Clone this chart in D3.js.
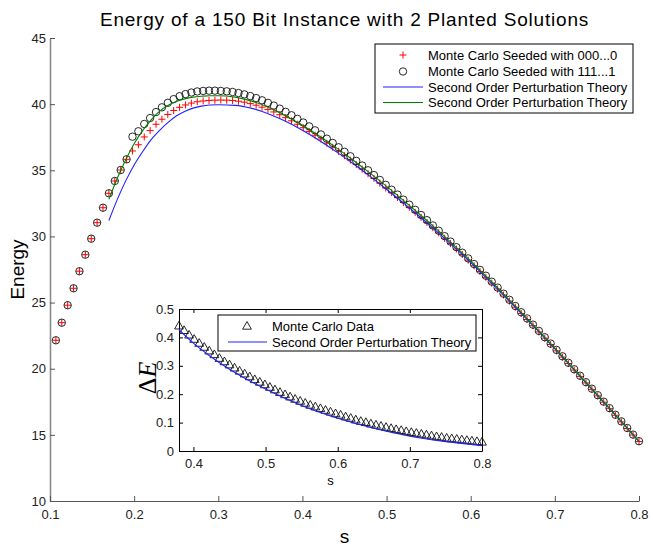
<!DOCTYPE html>
<html>
<head>
<meta charset="utf-8">
<script src="https://cdn.jsdelivr.net/npm/d3@7"></script>
<style>
  body { margin: 0; background: #fff; }
  text { font-family: Arial, "Liberation Sans", sans-serif; }
</style>
</head>
<body>
<div id="chart-area"></div>
<script>
// Monte Carlo sample points (s)
const sValues = [
  0.107, 0.114, 0.121, 0.128, 0.135, 0.142, 0.149, 0.156, 0.163, 0.170,
  0.177, 0.184, 0.191, 0.198, 0.205, 0.212, 0.219, 0.226, 0.233, 0.240,
  0.247, 0.254, 0.261, 0.268, 0.275, 0.282, 0.289, 0.296, 0.303, 0.310,
  0.317, 0.324, 0.331, 0.338, 0.345, 0.352, 0.359, 0.366, 0.373, 0.380,
  0.387, 0.394, 0.401, 0.408, 0.415, 0.422, 0.429, 0.436, 0.443, 0.450,
  0.457, 0.464, 0.471, 0.478, 0.485, 0.492, 0.499, 0.506, 0.513, 0.520,
  0.527, 0.534, 0.541, 0.548, 0.555, 0.562, 0.569, 0.576, 0.583, 0.590,
  0.597, 0.604, 0.611, 0.618, 0.625, 0.632, 0.639, 0.646, 0.653, 0.660,
  0.667, 0.674, 0.681, 0.688, 0.695, 0.702, 0.709, 0.716, 0.723, 0.730,
  0.737, 0.744, 0.751, 0.758, 0.765, 0.772, 0.779, 0.786, 0.793, 0.800
];

// Monte Carlo seeded with 000...0 (red +)
const energySeed0 = [
  22.15, 23.48, 24.80, 26.08, 27.37, 28.62, 29.83, 31.04, 32.17, 33.26,
  34.19, 35.02, 35.83, 36.46, 36.93, 37.52, 38.00, 38.48, 38.86, 39.22,
  39.52, 39.76, 39.94, 40.08, 40.18, 40.24, 40.28, 40.30, 40.31, 40.30,
  40.28, 40.22, 40.15, 40.04, 39.92, 39.77, 39.60, 39.41, 39.20, 38.98,
  38.74, 38.48, 38.22, 37.94, 37.65, 37.36, 37.05, 36.74, 36.43, 36.10,
  35.77, 35.43, 35.09, 34.74, 34.39, 34.03, 33.67, 33.31, 32.94, 32.57,
  32.20, 31.82, 31.44, 31.05, 30.66, 30.27, 29.86, 29.46, 29.05, 28.63,
  28.21, 27.78, 27.35, 26.91, 26.47, 26.03, 25.57, 25.11, 24.65, 24.18,
  23.72, 23.25, 22.78, 22.31, 21.83, 21.35, 20.88, 20.39, 19.90, 19.42,
  18.93, 18.44, 17.95, 17.47, 16.98, 16.48, 15.98, 15.48, 14.99, 14.49
];

// Monte Carlo seeded with 111...1 (black o)
const energySeed1 = [
  22.15, 23.48, 24.80, 26.08, 27.37, 28.62, 29.83, 31.04, 32.17, 33.26,
  34.19, 35.02, 35.83, 37.54, 37.95, 38.50, 38.95, 39.40, 39.76, 40.10,
  40.38, 40.60, 40.76, 40.88, 40.96, 41.00, 41.02, 41.02, 41.00, 40.97,
  40.92, 40.84, 40.74, 40.61, 40.46, 40.29, 40.10, 39.89, 39.66, 39.42,
  39.16, 38.89, 38.61, 38.32, 38.02, 37.71, 37.39, 37.07, 36.74, 36.40,
  36.06, 35.71, 35.36, 35.00, 34.64, 34.27, 33.90, 33.53, 33.16, 32.78,
  32.40, 32.01, 31.62, 31.23, 30.83, 30.43, 30.02, 29.61, 29.19, 28.77,
  28.34, 27.91, 27.47, 27.03, 26.58, 26.13, 25.67, 25.21, 24.74, 24.27,
  23.80, 23.33, 22.86, 22.38, 21.90, 21.42, 20.94, 20.45, 19.96, 19.47,
  18.98, 18.49, 18.00, 17.51, 17.02, 16.52, 16.02, 15.52, 15.02, 14.52
];

// Second order perturbation theory curves
const ptS = [
  0.17, 0.18, 0.19, 0.20, 0.21, 0.22, 0.23, 0.24, 0.25, 0.26, 0.27, 0.28, 0.29,
  0.30, 0.32, 0.34, 0.36, 0.38, 0.40, 0.42, 0.44, 0.46, 0.48, 0.50, 0.52, 0.54,
  0.56, 0.58, 0.60, 0.62, 0.64, 0.66, 0.68, 0.70, 0.72, 0.74, 0.76, 0.78, 0.80
];
const ptSeed0 = [
  31.2, 32.8, 34.2, 35.4, 36.4, 37.3, 38.0, 38.6, 39.1, 39.45, 39.7, 39.85, 39.93,
  39.95, 39.91, 39.68, 39.26, 38.70, 38.02, 37.25, 36.41, 35.51, 34.56, 33.56, 32.54, 31.47,
  30.36, 29.21, 28.03, 26.78, 25.50, 24.19, 22.86, 21.50, 20.12, 18.72, 17.33, 15.92, 14.49
];
const ptSeed1 = [
  32.8, 34.4, 35.8, 37.0, 38.0, 38.8, 39.45, 39.9, 40.2, 40.4, 40.53, 40.6, 40.64,
  40.64, 40.53, 40.23, 39.75, 39.13, 38.40, 37.59, 36.71, 35.78, 34.80, 33.78, 32.73, 31.64,
  30.51, 29.34, 28.14, 26.88, 25.59, 24.26, 22.92, 21.55, 20.16, 18.76, 17.36, 15.94, 14.51
];

// Inset: energy gap, Monte Carlo (s from 0.380 to 0.800, same grid as sValues)
const deltaS = sValues.slice(39);
const deltaMC = [
  0.441, 0.425, 0.409, 0.394, 0.380, 0.366, 0.353, 0.340, 0.327, 0.315,
  0.304, 0.293, 0.282, 0.272, 0.262, 0.252, 0.243, 0.234, 0.225, 0.216,
  0.207, 0.199, 0.191, 0.183, 0.176, 0.169, 0.162, 0.156, 0.150, 0.144,
  0.138, 0.132, 0.127, 0.121, 0.116, 0.110, 0.105, 0.101, 0.096, 0.092,
  0.088, 0.084, 0.080, 0.076, 0.073, 0.069, 0.066, 0.063, 0.060, 0.057,
  0.054, 0.051, 0.049, 0.046, 0.044, 0.042, 0.040, 0.038, 0.036, 0.034,
  0.032
];
const deltaPtS = [0.38, 0.40, 0.42, 0.45, 0.50, 0.55, 0.60, 0.65, 0.70, 0.75, 0.80];
const deltaPt = [0.427, 0.380, 0.340, 0.288, 0.218, 0.160, 0.115, 0.080, 0.052, 0.033, 0.019];

const xTicks = [0.1, 0.2, 0.3, 0.4, 0.5, 0.6, 0.7, 0.8];
const yTicks = [10, 15, 20, 25, 30, 35, 40, 45];
const insetXTicks = [0.4, 0.5, 0.6, 0.7, 0.8];
const insetYTicks = [0, 0.1, 0.2, 0.3, 0.4, 0.5];

const legendLabels = [
  "Monte Carlo Seeded with 000...0",
  "Monte Carlo Seeded with 111...1",
  "Second Order Perturbation Theory",
  "Second Order Perturbation Theory"
];
const insetLegendLabels = ["Monte Carlo Data", "Second Order Perturbation Theory"];

// ---- layout ----
const W = 653, H = 547;
const margin = { left: 50, right: 14, top: 38, bottom: 46 };
const width = W - margin.left - margin.right,
      height = H - margin.top - margin.bottom;

const svg = d3.select("#chart-area")
  .append("svg")
    .attr("width", W)
    .attr("height", H);

const g = svg.append("g")
    .attr("transform", "translate(" + margin.left + ", " + margin.top + ")");

const xScale = d3.scaleLinear().domain([0.1, 0.8]).range([0, width]);
const yScale = d3.scaleLinear().domain([10, 45]).range([height, 0]);
const fmt1 = d3.format(".1f");

// axes (ticks point inward, no box)
const yAxis = g.append("g")
  .call(d3.axisLeft(yScale).tickValues(yTicks).tickSizeInner(-5).tickSizeOuter(0).tickPadding(4));
yAxis.select(".domain").attr("stroke", "#8a8a8a").attr("stroke-width", 1.6);
yAxis.selectAll(".tick line").attr("stroke", "#555");

const xAxis = g.append("g")
    .attr("transform", "translate(0, " + height + ")")
  .call(d3.axisBottom(xScale).tickValues(xTicks).tickFormat(fmt1).tickSizeInner(-5).tickSizeOuter(0).tickPadding(9));
xAxis.select(".domain").attr("stroke", "#555").attr("stroke-width", 1.2);
xAxis.selectAll(".tick line").attr("stroke", "#555");

g.selectAll(".tick text").attr("font-size", 13).attr("fill", "#222")
  .style("font-family", "Arial, 'Liberation Sans', sans-serif");

// title and axis labels
svg.append("text")
    .attr("x", margin.left + width / 2).attr("y", 26)
    .attr("text-anchor", "middle").attr("font-size", 19)
    .attr("letter-spacing", 0.8)
    .text("Energy of a 150 Bit Instance with 2 Planted Solutions");
svg.append("text")
    .attr("transform", "translate(24, " + (margin.top + height / 2) + ") rotate(-90)")
    .attr("text-anchor", "middle").attr("font-size", 19)
    .text("Energy");
svg.append("text")
    .attr("x", margin.left + width / 2).attr("y", 543)
    .attr("text-anchor", "middle").attr("font-size", 19)
    .text("s");

// markers
const plusPath = "M-3.5,0H3.5M0,-3.5V3.5";
const seed0 = sValues.map((s, i) => ({ s: s, e: energySeed0[i] }));
const seed1 = sValues.map((s, i) => ({ s: s, e: energySeed1[i] }));

g.selectAll(".plus")
  .data(seed0)
  .enter().append("path")
    .attr("class", "plus")
    .attr("d", plusPath)
    .attr("transform", (d) => "translate(" + xScale(d.s) + "," + yScale(d.e) + ")")
    .attr("stroke", "#ff0000").attr("stroke-width", 1).attr("fill", "none");

g.selectAll(".circ")
  .data(seed1)
  .enter().append("circle")
    .attr("class", "circ")
    .attr("cx", (d) => xScale(d.s))
    .attr("cy", (d) => yScale(d.e))
    .attr("r", 3.7)
    .attr("stroke", "#111").attr("stroke-width", 0.9).attr("fill", "none");

const line = d3.line()
  .x((d) => xScale(d.s))
  .y((d) => yScale(d.e))
  .curve(d3.curveMonotoneX);

g.append("path")
  .datum(ptS.map((s, i) => ({ s: s, e: ptSeed0[i] })))
    .attr("d", line)
    .attr("fill", "none").attr("stroke", "#2020ff").attr("stroke-width", 1.1);
g.append("path")
  .datum(ptS.map((s, i) => ({ s: s, e: ptSeed1[i] })))
    .attr("d", line)
    .attr("fill", "none").attr("stroke", "#008000").attr("stroke-width", 1.1);

// main legend
const leg = svg.append("g").attr("transform", "translate(375, 44)");
leg.append("rect").attr("width", 258).attr("height", 69)
  .attr("fill", "#fff").attr("stroke", "#000").attr("stroke-width", 1);
const legRows = [11, 27.5, 43, 58.5];
leg.selectAll(".lt")
  .data(legendLabels)
  .enter().append("text")
    .attr("x", 53).attr("y", (d, i) => legRows[i])
    .attr("dy", "0.35em").attr("font-size", 13)
    .text((d) => d);
leg.append("path").attr("d", plusPath).attr("transform", "translate(28," + legRows[0] + ")")
  .attr("stroke", "#ff0000").attr("fill", "none");
leg.append("circle").attr("cx", 28).attr("cy", legRows[1]).attr("r", 3.7)
  .attr("stroke", "#111").attr("stroke-width", 0.9).attr("fill", "none");
leg.append("line").attr("x1", 8).attr("x2", 48).attr("y1", legRows[2]).attr("y2", legRows[2])
  .attr("stroke", "#2020ff").attr("stroke-width", 1.1);
leg.append("line").attr("x1", 8).attr("x2", 48).attr("y1", legRows[3]).attr("y2", legRows[3])
  .attr("stroke", "#008000").attr("stroke-width", 1.1);

// ---- inset ----
const inset = { left: 179, top: 309, width: 303, height: 142 };
const ig = svg.append("g").attr("transform", "translate(" + inset.left + ", " + inset.top + ")");
ig.append("rect").attr("width", inset.width).attr("height", inset.height).attr("fill", "#fff");

const ixScale = d3.scaleLinear().domain([0.38, 0.8]).range([0, inset.width]);
const iyScale = d3.scaleLinear().domain([0, 0.5]).range([inset.height, 0]);

ig.append("g").attr("transform", "translate(0," + inset.height + ")")
  .call(d3.axisBottom(ixScale).tickValues(insetXTicks).tickFormat(fmt1).tickSizeInner(-4).tickSizeOuter(0).tickPadding(8));
ig.append("g")
  .call(d3.axisTop(ixScale).tickValues(insetXTicks).tickFormat("").tickSizeInner(-4).tickSizeOuter(0));
ig.append("g")
  .call(d3.axisLeft(iyScale).tickValues(insetYTicks).tickFormat((d) => d === 0 ? "0" : fmt1(d)).tickSizeInner(-4).tickSizeOuter(0).tickPadding(5));
ig.append("g").attr("transform", "translate(" + inset.width + ",0)")
  .call(d3.axisRight(iyScale).tickValues(insetYTicks).tickFormat("").tickSizeInner(-4).tickSizeOuter(0));
ig.selectAll(".tick text").attr("font-size", 13).attr("fill", "#222")
  .style("font-family", "Arial, 'Liberation Sans', sans-serif");
ig.selectAll(".domain").attr("stroke", "#000");

const triPath = "M0,-4.5L4.4,3.2L-4.4,3.2Z";
ig.selectAll(".tri")
  .data(deltaS.map((s, i) => ({ s: s, d: deltaMC[i] })))
  .enter().append("path")
    .attr("class", "tri")
    .attr("d", triPath)
    .attr("transform", (d) => "translate(" + ixScale(d.s) + "," + iyScale(d.d) + ")")
    .attr("stroke", "#111").attr("stroke-width", 0.9).attr("fill", "none");

ig.append("path")
  .datum(deltaPtS.map((s, i) => ({ s: s, d: deltaPt[i] })))
    .attr("d", d3.line().x((d) => ixScale(d.s)).y((d) => iyScale(d.d)).curve(d3.curveMonotoneX))
    .attr("fill", "none").attr("stroke", "#2020ff").attr("stroke-width", 1.1);

// inset legend
const ileg = svg.append("g").attr("transform", "translate(218, 315)");
ileg.append("rect").attr("width", 258).attr("height", 36)
  .attr("fill", "#fff").attr("stroke", "#000").attr("stroke-width", 1);
const ilegRows = [11, 27];
ileg.selectAll(".it")
  .data(insetLegendLabels)
  .enter().append("text")
    .attr("x", 54).attr("y", (d, i) => ilegRows[i])
    .attr("dy", "0.35em").attr("font-size", 13)
    .text((d) => d);
ileg.append("path").attr("d", triPath).attr("transform", "translate(29," + ilegRows[0] + ")")
  .attr("stroke", "#111").attr("stroke-width", 0.9).attr("fill", "none");
ileg.append("line").attr("x1", 10).attr("x2", 49).attr("y1", ilegRows[1]).attr("y2", ilegRows[1])
  .attr("stroke", "#2020ff").attr("stroke-width", 1.1);

// inset axis labels
svg.append("text")
    .attr("x", inset.left + inset.width / 2).attr("y", 485)
    .attr("text-anchor", "middle").attr("font-size", 13)
    .text("s");
const dE = svg.append("text")
    .attr("transform", "translate(156, " + (inset.top + inset.height / 2 - 2) + ") rotate(-90)")
    .attr("text-anchor", "middle").attr("font-size", 26)
    .style("font-family", "'DejaVu Serif', 'Liberation Serif', serif");
dE.append("tspan").style("font-family", "'Liberation Serif', serif").text("Δ");
dE.append("tspan").attr("font-style", "italic").style("font-family", "'Liberation Serif', serif").text("E");
</script>
</body>
</html>
